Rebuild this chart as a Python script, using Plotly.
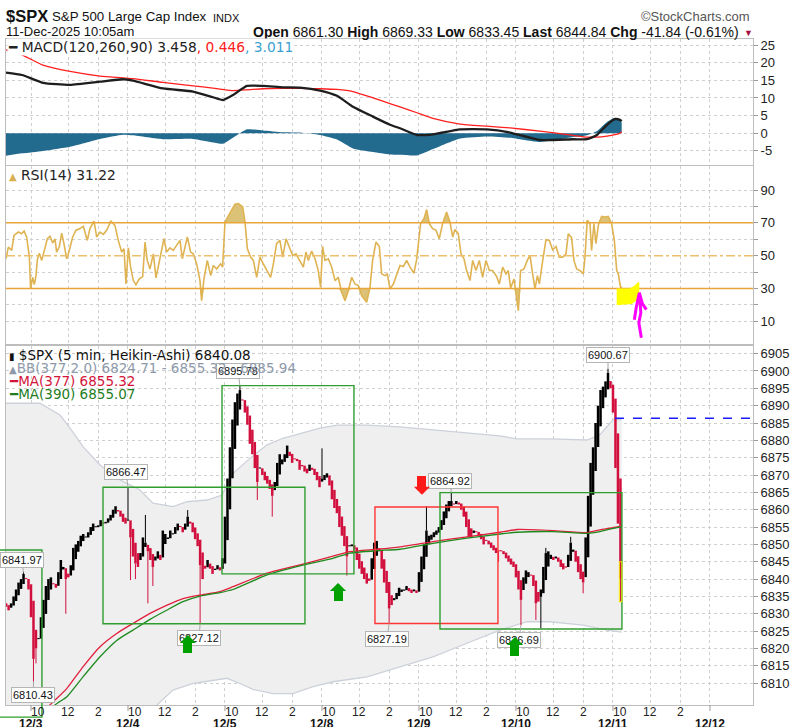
import plotly.graph_objects as go

# ===================== data =====================
BARS_PER_DAY = 78                       # 5-minute bars in a session
day_labels = ["12/3", "12/4", "12/5", "12/8", "12/9", "12/10", "12/11", "12/12"]
hour_labels = ["10", "12", "2"]
hour_bars = [6, 30, 54]                 # bars after the 9:30 open
grid_bars = [0, 30, 54]

# Heikin-Ashi candles, one per 10 minutes, time = 5-min bar number since 12/3 09:30
first_bar = -20
bar_step = 2
first_open = 6833.0
ha_close = [
    6832, 6831, 6833, 6835, 6837, 6839, 6840, 6841.5, 6840, 6837,
    6829, 6817, 6820, 6823, 6829, 6834, 6838, 6840, 6840.5, 6838.5,
    6837.5, 6842, 6845.5, 6843.5, 6840, 6840.5, 6844, 6849, 6850, 6851,
    6852.5, 6853, 6852, 6853.5, 6855, 6856, 6855, 6855.5, 6857, 6856,
    6856.5, 6857.5, 6858.5, 6860, 6861, 6859.5, 6858, 6856.5, 6856,
    6857, 6852, 6846.5, 6844.5, 6843.5, 6847.5, 6852, 6850.5, 6848, 6845.5,
    6843.5, 6846.5, 6848, 6845.5, 6854, 6853, 6852, 6854, 6853.2, 6855,
    6856, 6855, 6853.5, 6856, 6858, 6856, 6853.5, 6851.5, 6849.5, 6844,
    6840, 6843, 6845.5, 6843, 6841.5, 6843, 6844, 6842.5, 6846,
    6858, 6869, 6878, 6886, 6891, 6893.5, 6894.5, 6891.5, 6888, 6884.5,
    6879, 6876, 6872, 6868, 6872, 6870, 6868.5, 6867.5, 6866, 6864,
    6868, 6873.5, 6876, 6874.5, 6876, 6878.5, 6875.5, 6873.5, 6874.5, 6874,
    6871.5, 6872.5, 6871, 6870.5, 6873, 6871.5, 6870, 6868.5, 6866.5,
    6869, 6870, 6870.5, 6867, 6863, 6860.5, 6859, 6855, 6852.5, 6849.5,
    6846.5, 6849.5, 6850, 6848.5, 6845.5, 6843, 6841.5, 6840, 6838.7, 6839.5,
    6846, 6850.5, 6851, 6848, 6843, 6839, 6836, 6831.5, 6832.5, 6834.5,
    6836, 6837.5, 6837, 6837, 6838, 6836.5, 6836, 6837, 6836,
    6842, 6846.5, 6850, 6854, 6852.5, 6852.8, 6853.5, 6854, 6855, 6857,
    6859.5, 6861.5, 6862.5, 6862.5, 6861.5, 6862.5, 6861.5, 6860, 6858, 6855,
    6852, 6852, 6854, 6853.5, 6852.5, 6851.5, 6850, 6851, 6850, 6849,
    6848.3, 6847.5, 6848, 6848, 6847.2, 6846, 6845, 6844.2, 6843.5,
    6840.5, 6837, 6834, 6840.5, 6842.5, 6842, 6841, 6838, 6833, 6833.5,
    6837, 6843.5, 6847.5, 6848, 6847, 6845.5, 6846.5, 6845, 6843.5, 6842.8,
    6843.3, 6847, 6850.5, 6848.5, 6845, 6842, 6840, 6839, 6852, 6864,
    6873.5, 6878, 6885, 6890, 6894.5, 6895.5, 6897, 6899.5, 6895,
    6888, 6872, 6856, 6840.08,
]
# wick extremes (candle number, price)
wick_k = [7, 11, 12, 24, 49, 50, 52, 56, 57, 59, 73, 78, 94, 101, 107, 127, 137, 154, 169, 179,
          198, 207, 213, 215, 217, 227, 232, 242, 247]
wick_v = [6841.97, 6810.43, 6815.7, 6830.0, 6866.47, 6839.7, 6840.0, 6858.5, 6833.0, 6838.0,
          6859.9, 6827.12, 6895.78, 6862.8, 6858.0, 6877.7, 6841.0, 6827.19, 6861.0, 6864.92,
          6845.0, 6826.69, 6828.2, 6825.8, 6849.0, 6852.2, 6835.9, 6900.67, 6833.45]
callout_vals = [6841.97, 6810.43, 6866.47, 6895.78, 6827.12, 6827.19, 6864.92, 6826.69, 6900.67]

# Bollinger band (377, 2.0)
bb_up_t = [-20.1, 7.2, 23.3, 31.4, 41.8, 55.5, 71.6, 87.6, 98.1, 114.2, 125.4, 141.5, 153.6, 162.4,
           176.1, 189.8, 202.6, 216.3, 232.4, 246.1, 270.2, 296.7, 323.3, 350.6, 377.1, 390.8,
           417.3, 447.1, 457.5, 467.9, 475.0]
bb_up_v = [6890.7, 6890.7, 6887.3, 6883.5, 6878.2, 6872.9, 6868.6, 6865.7, 6861.9, 6860.9, 6862.3,
           6862.8, 6864.2, 6870.5, 6874.8, 6878.7, 6880.6, 6882.0, 6883.5, 6884.4, 6884.4, 6883.9,
           6883.0, 6882.0, 6881.3, 6880.4, 6880.4, 6880.1, 6881.6, 6885.9, 6885.94]
bb_lo_t = [-20.1, 7.2, 31.4, 55.5, 71.6, 87.6, 101.3, 114.2, 130.3, 157.6, 168.1, 178.5, 194.6,
           210.7, 226.8, 242.9, 270.2, 296.7, 323.3, 350.6, 377.1, 398.8, 417.3, 443.9, 463.2, 475.0]
bb_lo_v = [6690, 6711, 6736, 6768, 6783, 6793, 6803.7, 6808.0, 6809.9, 6811.4, 6809.9, 6808.2,
           6807.0, 6807.0, 6809.0, 6810.4, 6811.8, 6814.7, 6817.6, 6821.5, 6825.3, 6827.7, 6827.7,
           6826.7, 6825.3, 6824.71]

# moving averages
ma_t = [-20.1, 7.2, 19.3, 28.9, 41.8, 55.5, 69.2, 82.0, 95.7, 109.4, 122.2, 135.9, 152.0, 162.4,
        189.8, 216.3, 242.9, 256.5, 278.2, 296.7, 323.3, 350.6, 377.1, 390.8, 419.7, 447.1, 457.5,
        467.9, 475.0]
ma377_v = [6790, 6801, 6805.1, 6808.5, 6814.7, 6820.5, 6824.4, 6827.2, 6830.1, 6832.5, 6834.4,
           6835.4, 6836.4, 6837.8, 6841.7, 6844.1, 6846.6, 6847.9, 6848.6, 6849.3, 6850.8, 6852.2,
           6853.5, 6854.3, 6854.0, 6853.4, 6854.2, 6854.8, 6855.32]
ma390_v = [6786, 6797, 6803.7, 6806.1, 6811.8, 6817.6, 6822.4, 6825.3, 6828.4, 6831.1, 6833.5,
           6835.1, 6836.1, 6837.0, 6841.2, 6843.8, 6846.0, 6847.5, 6848.2, 6848.6, 6850.3, 6851.8,
           6853.0, 6853.5, 6853.7, 6853.2, 6853.7, 6854.6, 6855.07]

# MACD(120,260,90)
macd_t = [-20.1, -7.2, 9.6, 31.4, 55.5, 74.0, 82.0, 106.1, 130.3, 146.3, 154.4, 162.4, 173.7,
          186.6, 202.6, 216.3, 232.4, 246.1, 258.9, 275.0, 288.7, 296.7, 310.4, 323.3, 345.0,
          366.7, 385.2, 409.3, 435.8, 447.1, 455.1, 463.2, 469.6, 473.6, 475.0]
macd_v = [17.2, 16.5, 14.3, 13.7, 14.6, 15.3, 14.9, 12.7, 11.8, 10.2, 9.4, 10.8, 13.4, 13.4, 13.0,
          12.9, 12.1, 10.6, 7.5, 4.7, 2.4, 1.4, -0.5, -0.3, 1.1, 1.1, 0.2, -1.9, -1.7, -1.7, -0.5,
          2.4, 4.0, 3.8, 3.458]
signal_v = [23.6, 22.2, 19.3, 17.5, 16.2, 15.7, 15.5, 14.4, 13.4, 12.8, 12.4, 12.1, 12.3, 12.6,
            12.7, 12.7, 12.6, 12.4, 11.8, 10.0, 8.4, 7.5, 5.8, 4.2, 2.6, 2.0, 1.5, 0.6, -0.6, -1.1,
            -1.1, -0.8, -0.4, 0.0, 0.446]

# RSI(14)
rsi_t = [-20.1, -18.2, -15.5, -13.7, -10.2, -7.5, -5.6, -3.5, -1.3, -0.3, 1.3, 2.7, 4.0, 5.1, 6.7,
         8.6, 11.3, 13.1, 15.3, 17.4, 19.3, 20.6, 22.8, 24.7, 26.5, 28.7, 30.8, 33.5, 36.2, 39.4,
         42.1, 45.3, 47.4, 50.7, 52.8, 55.5, 58.2, 60.8, 64.3, 67.5, 70.2, 72.9, 74.8, 76.4, 78.3,
         80.1, 82.3, 84.4, 87.1, 89.8, 91.7, 93.5, 95.7, 98.4, 100.5, 103.2, 106.9, 109.1, 111.8,
         114.4, 117.1, 119.8, 121.7, 123.8, 125.7, 128.4, 130.5, 133.2, 135.9, 137.2, 139.1, 141.8,
         144.5, 146.6, 149.3, 152.5, 154.1, 156.0, 160.0, 164.0, 166.7, 170.2, 172.1, 174.0, 176.6,
         178.8, 181.5, 184.1, 186.8, 189.5, 192.7, 194.9, 197.5, 200.2, 202.4, 205.1, 207.7, 210.4,
         213.1, 215.8, 219.0, 221.1, 223.0, 225.7, 228.4, 231.0, 232.9, 234.5, 236.4, 239.1, 241.8,
         244.5, 247.1, 249.8, 252.5, 255.2, 257.9, 260.5, 263.2, 265.9, 269.9, 272.6, 274.7, 277.4,
         280.1, 282.0, 284.7, 286.5, 288.7, 291.4, 294.0, 296.7,
         299.4, 302.1, 304.8, 308.0, 310.1, 313.3, 316.0, 318.2, 320.3, 323.0, 325.7, 328.3, 331.0,
         334.2, 336.9, 339.1, 340.9, 343.6, 345.8, 348.2, 350.3, 353.0, 355.2, 357.8, 360.5, 363.2,
         365.9, 368.6, 371.2, 374.5, 376.6, 379.3, 382.0, 383.8, 385.7, 388.4, 390.0, 391.9, 393.7,
         396.4, 399.1, 401.3, 403.4, 405.3, 407.2, 408.8, 411.5, 414.1, 416.8, 419.5, 422.2, 424.8,
         427.5, 430.2, 432.1, 434.7, 436.6, 438.8, 441.5, 444.1, 445.5, 447.3, 449.5, 450.8, 452.7,
         454.3, 456.2, 458.9, 461.6, 464.2, 466.9, 469.1, 471.0, 472.3, 473.6, 474.4, 475.0]
rsi_v = [48.1, 55.2, 53.2, 62.4, 64.4, 63.4, 65.0, 61.4, 49.1, 29.7, 36.8, 32.3, 37.8, 47.5, 51.5,
         47.1, 54.8, 60.3, 61.8, 57.7, 60.3, 52.2, 55.6, 63.8, 57.3, 48.1, 53.2, 61.4, 65.5, 66.5,
         67.9, 59.3, 66.5, 71.0, 61.4, 64.4, 63.0, 65.5, 71.0, 68.5, 59.3, 52.2, 54.2, 32.7, 54.8,
         43.0, 34.8, 32.3, 35.8, 37.2, 58.3, 47.1, 41.9, 51.1, 36.4, 47.1, 60.3, 52.2, 54.8, 53.2,
         56.3, 59.3, 48.1, 54.2, 61.4, 52.2, 51.1, 45.0, 34.8, 22.5, 35.8, 47.1, 37.8, 44.0, 41.9,
         45.0, 43.0, 70.6, 75.7, 81.4, 81.8, 79.8, 70.6, 54.2, 49.1, 47.1, 36.8, 49.1, 45.0, 40.9,
         36.8, 45.0, 57.3, 59.3, 49.1, 60.3, 55.2, 50.1, 51.1, 47.1, 43.0, 52.2, 47.1, 52.8, 48.1,
         40.9, 30.7, 55.6, 47.1, 48.1, 43.0, 34.8, 36.8, 27.6, 22.5, 28.6, 36.8, 32.7, 31.7, 25.6,
         21.5, 30.7, 47.1, 58.3, 55.6, 38.9, 37.8, 38.9, 29.7, 32.7, 38.9, 44.0,
         43.4, 47.1, 43.0, 39.3, 47.5, 69.5, 72.6, 78.1, 69.5, 66.5, 65.5, 60.3, 69.5, 76.7, 70.6,
         61.4, 65.9, 63.4, 51.1, 48.1, 40.9, 34.8, 47.1, 40.9, 47.1, 36.8, 47.1, 40.9, 40.9, 37.2,
         32.7, 43.0, 38.9, 40.9, 30.3, 35.8, 26.6, 16.4, 40.9, 41.9, 47.1, 50.1, 38.9, 29.7, 37.8,
         32.7, 47.1, 59.7, 59.3, 53.6, 55.6, 49.1, 49.1, 51.1, 63.4, 61.0, 47.1, 41.9, 40.9, 38.9,
         49.1, 71.6, 69.5, 53.2, 69.5, 57.3, 68.5, 74.0, 73.6, 74.0, 69.5, 59.3, 40.9, 38.9, 32.7,
         29.7, 31.22]

# user drawings on the chart (time, price)
drawn_boxes = [   # t0, t1, low, high, colour key
    (-26.0, 8.8, 6800.2, 6848.4, "g"),
    (57.9, 220.3, 6827.12, 6866.47, "g"),
    (153.6, 259.7, 6841.5, 6895.78, "g"),
    (276.6, 375.5, 6827.19, 6860.8, "r"),
    (328.9, 475.2, 6825.6, 6864.92, "g"),
]
signal_t = [126.2, 246.9, 314.4, 389.2]
signal_p = [6823.9, 6838.9, 6864.3, 6823.3]
signal_dir = ["up", "up", "down", "up"]
dash_level_t = 469.6
dash_level_p = 6886.4

# ===================== layout constants =====================
W, H = 804, 727
ML, MR, MT, MB = 6, 51, 39, 22
PLOT_W = W - ML - MR
PLOT_H = H - MT - MB


def PX(px):
    return (px - ML) / PLOT_W


def PY(py):
    return (H - MB - py) / PLOT_H


X_RANGE = [-20.1, 580.6]
PRICE_RANGE = [6803.7, 6907.2]
RSI_RANGE = [-3.9, 104.7]
MACD_RANGE = [-9.0, 26.7]
DOM_PRICE = [PY(705), PY(346)]
DOM_RSI = [PY(344), PY(166)]
DOM_MACD = [PY(165), PY(39)]

UP_C, DN_C = "#000000", "#d2103e"
GRID_C = "#cfcfcf"
AX_FONT = "Liberation Sans, Arial, sans-serif"
LG_FONT = "DejaVu Sans, Verdana, sans-serif"


def t2paper(t):
    return (t - X_RANGE[0]) / (X_RANGE[1] - X_RANGE[0])


def p2paper(p):
    return DOM_PRICE[0] + (p - PRICE_RANGE[0]) / (PRICE_RANGE[1] - PRICE_RANGE[0]) * (DOM_PRICE[1] - DOM_PRICE[0])


# ===================== derived series =====================
bar_t = [first_bar + bar_step * k for k in range(len(ha_close))]
# Heikin-Ashi open: midpoint of the previous candle's body
ha_open = [first_open]
for k in range(1, len(ha_close)):
    ha_open.append((ha_open[k - 1] + ha_close[k - 1]) / 2)
body_lo = [min(o, c) for o, c in zip(ha_open, ha_close)]
body_hi = [max(o, c) for o, c in zip(ha_open, ha_close)]
is_up = [c >= o for o, c in zip(ha_open, ha_close)]

bodies = {True: ([], []), False: ([], [])}
for t, lo, hi, u in zip(bar_t, body_lo, body_hi, is_up):
    if hi - lo < 0.3:
        hi = lo + 0.3
    bodies[u][0].extend([t, t, None])
    bodies[u][1].extend([lo, hi, None])

wicks = {True: ([], []), False: ([], [])}
for k, v in zip(wick_k, wick_v):
    if body_lo[k] <= v <= body_hi[k]:
        continue
    edge = body_hi[k] if v > body_hi[k] else body_lo[k]
    wicks[is_up[k]][0].extend([bar_t[k], bar_t[k], None])
    wicks[is_up[k]][1].extend([edge, v, None])

hist_v = [m - s for m, s in zip(macd_v, signal_v)]

fig = go.Figure()

# ---------- MACD panel ----------
fig.add_trace(go.Scatter(x=macd_t, y=hist_v, mode="lines", fill="tozeroy",
                         line=dict(width=0, color="#236b8e", shape="spline", smoothing=0.5),
                         fillcolor="#236b8e", xaxis="x3", yaxis="y3", hoverinfo="skip"))
fig.add_trace(go.Scatter(x=macd_t, y=signal_v, mode="lines",
                         line=dict(width=1.3, color="#ff1f1f", shape="spline", smoothing=0.5),
                         xaxis="x3", yaxis="y3", hoverinfo="skip"))
fig.add_trace(go.Scatter(x=macd_t, y=macd_v, mode="lines",
                         line=dict(width=2.3, color="#1e1e1e", shape="spline", smoothing=0.5),
                         xaxis="x3", yaxis="y3", hoverinfo="skip"))

# ---------- RSI panel ----------
RSI_FILL = "rgba(214,183,95,0.85)"
for lvl, fn in ((70, max), (30, min)):
    fig.add_trace(go.Scatter(x=rsi_t, y=[lvl] * len(rsi_t), mode="lines", line=dict(width=0),
                             xaxis="x2", yaxis="y2", hoverinfo="skip"))
    fig.add_trace(go.Scatter(x=rsi_t, y=[fn(v, lvl) for v in rsi_v], mode="lines",
                             line=dict(width=0), fill="tonexty", fillcolor=RSI_FILL,
                             xaxis="x2", yaxis="y2", hoverinfo="skip"))
fig.add_trace(go.Scatter(x=rsi_t, y=rsi_v, mode="lines", line=dict(width=1.6, color="#dfb352"),
                         xaxis="x2", yaxis="y2", hoverinfo="skip"))

# ---------- price panel ----------
fig.add_trace(go.Scatter(x=bb_up_t + bb_lo_t[::-1], y=bb_up_v + bb_lo_v[::-1], mode="lines",
                         fill="toself", fillcolor="#efefef", line=dict(width=0),
                         xaxis="x", yaxis="y", hoverinfo="skip"))
for tt, vv in ((bb_up_t, bb_up_v), (bb_lo_t, bb_lo_v)):
    fig.add_trace(go.Scatter(x=tt, y=vv, mode="lines", line=dict(width=1.3, color="#cdd1da"),
                             xaxis="x", yaxis="y", hoverinfo="skip"))
for u in (True, False):
    col = UP_C if u else DN_C
    fig.add_trace(go.Scatter(x=wicks[u][0], y=wicks[u][1], mode="lines", line=dict(width=1, color=col),
                             xaxis="x", yaxis="y", hoverinfo="skip"))
    fig.add_trace(go.Scatter(x=bodies[u][0], y=bodies[u][1], mode="lines",
                             line=dict(width=2.5, color=col), xaxis="x", yaxis="y", hoverinfo="skip"))
fig.add_trace(go.Scatter(x=ma_t, y=ma377_v, mode="lines",
                         line=dict(width=1.3, color="#e0203c", shape="spline", smoothing=0.5),
                         xaxis="x", yaxis="y", hoverinfo="skip"))
fig.add_trace(go.Scatter(x=ma_t, y=ma390_v, mode="lines",
                         line=dict(width=1.3, color="#1e8a1e", shape="spline", smoothing=0.5),
                         xaxis="x", yaxis="y", hoverinfo="skip"))

# ---------- axes ----------
grid_vals = [BARS_PER_DAY * d + g for d in range(len(day_labels) - 1) for g in grid_bars]
grid_vals.append(BARS_PER_DAY * (len(day_labels) - 1))


def xax(anchor):
    return dict(range=X_RANGE, anchor=anchor, tickmode="array", tickvals=grid_vals,
                showticklabels=False, ticks="", showgrid=True, gridcolor=GRID_C, griddash="dot",
                gridwidth=1, zeroline=False, showline=True, mirror=True, linecolor="#bdbdbd",
                linewidth=1)


def yax(domain, rng, tickvals, ticktext, anchor):
    return dict(domain=domain, range=rng, side="right", anchor=anchor, tickmode="array",
                tickvals=tickvals, ticktext=ticktext, showgrid=True, gridcolor=GRID_C,
                griddash="dot", gridwidth=1, zeroline=False, showline=True, mirror=True,
                linecolor="#bdbdbd", linewidth=1, ticks="outside", ticklen=4, tickcolor="#9a9a9a",
                tickfont=dict(family=AX_FONT, size=13, color="#222"))


price_ticks = list(range(6810, 6906, 5))
rsi_ticks = list(range(10, 91, 10))
macd_ticks = list(range(-5, 26, 5))

fig.update_layout(
    width=W, height=H, margin=dict(l=ML, r=MR, t=MT, b=MB),
    paper_bgcolor="white", plot_bgcolor="white", showlegend=False, hovermode=False,
    xaxis=xax("y"), xaxis2={**xax("y2"), "matches": "x"}, xaxis3={**xax("y3"), "matches": "x"},
    yaxis=yax(DOM_PRICE, PRICE_RANGE, price_ticks, [str(v) for v in price_ticks], "x"),
    yaxis2=yax(DOM_RSI, RSI_RANGE, rsi_ticks, [str(v) if v % 20 == 10 else "" for v in rsi_ticks], "x2"),
    yaxis3=yax(DOM_MACD, MACD_RANGE, macd_ticks, [str(v) for v in macd_ticks], "x3"),
)

# ---------- shapes ----------
shapes = []
for lvl, dash, col in ((70, "solid", "#e9a53a"), (30, "solid", "#e9a53a"), (50, "dashdot", "#ebbf6c")):
    shapes.append(dict(type="line", xref="x2 domain", yref="y2", x0=0, x1=1, y0=lvl, y1=lvl,
                       line=dict(color=col, width=1.5, dash=dash), layer="above"))
BOX_C = {"g": "#2f9e2f", "r": "#ff3535"}
for i, (t0, t1, p0, p1, ck) in enumerate(drawn_boxes):
    if i == 0:   # this drawing runs past the chart edge, draw it unclipped
        shapes.append(dict(type="rect", xref="paper", yref="paper", x0=t2paper(t0), x1=t2paper(t1),
                           y0=p2paper(p0), y1=p2paper(p1), line=dict(color=BOX_C[ck], width=1.4)))
    else:
        shapes.append(dict(type="rect", xref="x", yref="y", x0=t0, x1=t1, y0=p0, y1=p1,
                           line=dict(color=BOX_C[ck], width=1.4)))
shapes.append(dict(type="line", xref="x", yref="y", x0=dash_level_t, x1=X_RANGE[1],
                   y0=dash_level_p, y1=dash_level_p, line=dict(color="#1a1aff", width=1.5, dash="dash")))
shapes.append(dict(type="rect", xref="x", yref="y", x0=bar_t[-1] - 0.9, x1=bar_t[-1] + 1.2,
                   y0=wick_v[-1], y1=6845.0, line=dict(color="#f5ea00", width=1)))
# hand-drawn highlight and arrow on RSI
shapes.append(dict(type="path", xref="x2", yref="y2", xsizemode="pixel", ysizemode="pixel",
                   xanchor=471.0, yanchor=29.9,
                   path="M0,0 L13,0 L18,3 L21.5,6.5 L22.6,6 L22.6,-8 L20,-12 L15,-15.5 L0,-16.7 Z",
                   fillcolor="#ffff00", line=dict(width=0)))
shapes.append(dict(type="path", xref="x2", yref="y2", xsizemode="pixel", ysizemode="pixel",
                   xanchor=489.2, yanchor=27.4,
                   path="M-5,-27 L-3,-14 L0,0 L3,-11 L7,-17 M0,-2 L1.5,-20 L-0.5,-30 L2,-45",
                   fillcolor="rgba(0,0,0,0)", line=dict(color="#ff00ff", width=3)))
for d in range(len(day_labels)):
    shapes.append(dict(type="line", xref="x", yref="paper", x0=BARS_PER_DAY * d, x1=BARS_PER_DAY * d,
                       y0=0, y1=PY(711), line=dict(color="#9a9a9a", width=1)))
fig.update_layout(shapes=shapes)

# ---------- annotations ----------
ann = []
callout_off = [(-2, -12), (0, 13), (-2, -15), (-2, -15), (-1, 14), (-2, 15), (-1, -12), (-2, 15), (0, -14)]
for v, (ax, ay) in zip(callout_vals, callout_off):
    k = wick_k[wick_v.index(v)]
    ann.append(dict(x=bar_t[k], y=v, xref="x", yref="y", text=f"{v:.2f}", showarrow=True,
                    arrowhead=0, arrowwidth=1, arrowcolor="#a8a8a8", ax=ax, ay=ay,
                    bgcolor="white", bordercolor="#b5b5b5", borderwidth=1, borderpad=1,
                    font=dict(family=AX_FONT, size=11, color="#111")))
# buy / sell arrows (drawn over the callouts)
for t, p, d in zip(signal_t, signal_p, signal_dir):
    col = "#00a000" if d == "up" else "#ff1a1a"
    sgn = 1 if d == "up" else -1
    ann.append(dict(x=t, y=p, xref="x", yref="y", text="", showarrow=True, arrowhead=1,
                    arrowsize=1, arrowwidth=2.7, arrowcolor=col, ax=0, ay=10 * sgn, standoff=0))
    ann.append(dict(x=t, y=p, xref="x", yref="y", text=" ", showarrow=False, width=9, height=11,
                    bgcolor=col, borderpad=0, borderwidth=0, yshift=-13 * sgn,
                    xanchor="center", yanchor="middle", font=dict(size=2)))
# x-axis labels
for d in range(len(day_labels) - 1):
    for lab, off in zip(hour_labels, hour_bars):
        ann.append(dict(x=BARS_PER_DAY * d + off, y=PY(712), xref="x", yref="paper", text=lab,
                        showarrow=False, xanchor="center", yanchor="middle",
                        font=dict(family=AX_FONT, size=12, color="#222")))
for d, lab in enumerate(day_labels):
    ann.append(dict(x=BARS_PER_DAY * d, y=PY(724), xref="x", yref="paper", text=f"<b>{lab}</b>",
                    showarrow=False, xanchor="center", yanchor="middle",
                    font=dict(family=AX_FONT, size=12, color="#111")))


def txt(px, py, text, size, family=AX_FONT, color="#111", xanchor="left", bg=None):
    d = dict(x=PX(px), y=PY(py), xref="paper", yref="paper", text=text, showarrow=False,
             xanchor=xanchor, yanchor="middle", font=dict(family=family, size=size, color=color))
    if bg:
        d.update(bgcolor=bg, borderpad=0)
    return d


ann.append(txt(4, 16, "<b>$SPX</b>", 16.5))
ann.append(txt(50, 17, "S&amp;P 500 Large Cap Index", 13.3))
ann.append(txt(211, 18, "INDX", 11))
ann.append(txt(4, 32, "11-Dec-2025 10:05am", 13))
ann.append(txt(741, 32, "<b>Open</b> 6861.30 <b>High</b> 6869.33 <b>Low</b> 6833.45 "
                        "<b>Last</b> 6844.84 <b>Chg</b> -41.84 (-0.61%)", 14, xanchor="right"))
ann.append(txt(742, 33, "▼", 9, color="#a4123c"))
ann.append(txt(752, 16, "©StockCharts.com", 13, color="#555", xanchor="right"))
ann.append(txt(7, 47, "<b>━</b> MACD(120,260,90) 3.458<span style='color:#ff2020'>, 0.446</span>"
                      "<span style='color:#3c9fd0'>, 3.011</span>", 13.8, LG_FONT, "#222", bg="white"))
ann.append(txt(7, 175, "<span style='color:#d9b050;font-size:10px'>▲</span> RSI(14) 31.22", 13.8, LG_FONT, "#222"))
ann.append(txt(7, 355, "<span style='font-size:10px'>▮</span> $SPX (5 min, Heikin-Ashi) 6840.08", 13.5, LG_FONT, "#111"))
ann.append(txt(7, 368, "<span style='font-size:10px'>▲</span>BB(377,2.0) 6824.71 - 6855.32 - 6885.94", 13.5, LG_FONT, "#8e99aa"))
ann.append(txt(7, 381, "<b>━</b>MA(377) 6855.32", 13.5, LG_FONT, "#d4143c"))
ann.append(txt(7, 394, "<b>━</b>MA(390) 6855.07", 13.5, LG_FONT, "#1e7d1e"))
fig.update_layout(annotations=ann)

# the page's default 8px body margin would shift the chart; remove it
fig.write_html("out.html", config={"displayModeBar": False},
               post_script="document.body.style.margin='0px';")
